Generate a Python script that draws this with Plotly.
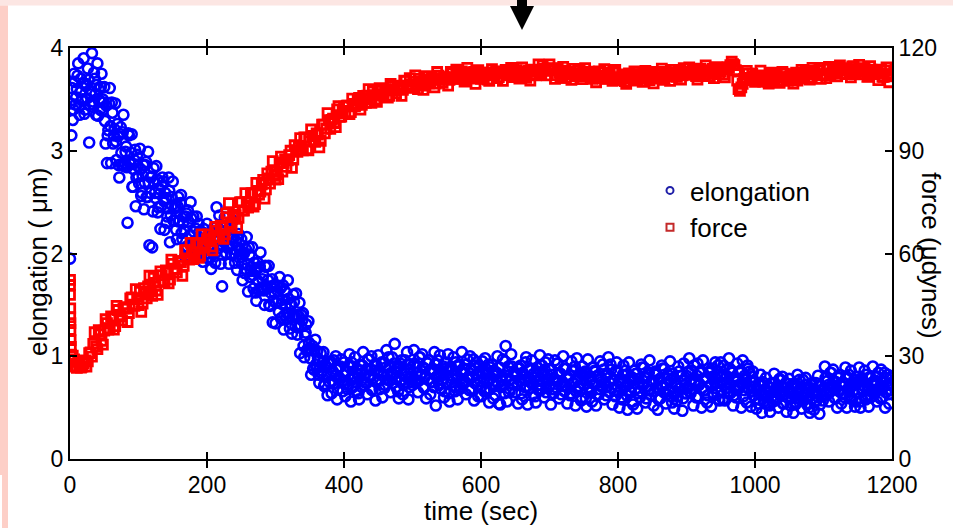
import plotly.graph_objects as go

# ---------------- data ----------------
# elongation (um), sampled every 2 s starting at t = 0 s
elongation_even_um = [
    1.95, 3.15, 3.30, 3.75, 3.45, 3.60, 3.85, 3.35, 3.70, 3.50, 3.90, 3.40, 3.65, 3.80, 3.08, 3.55, 3.95, 3.45, 3.70, 3.35, 3.85, 3.60, 3.40, 3.75, 3.50,
    3.62, 3.07, 2.88, 3.20, 3.61, 2.88, 3.37, 3.15, 3.46, 2.91, 3.14, 2.74, 3.23, 2.86, 3.35, 2.88, 3.04, 2.30, 3.15, 2.87, 3.16, 2.65, 2.91, 2.46, 2.96,
    2.75, 3.02, 2.56, 2.76, 2.43, 2.86, 2.55, 2.99, 2.08, 2.74, 2.06, 2.83, 2.59, 2.85, 2.40, 2.63, 2.24, 2.66, 2.70, 2.23, 2.54, 2.36, 2.74, 2.11, 2.55,
    2.70, 2.32, 2.46, 2.14, 2.55, 2.32, 2.57, 2.14, 2.36, 1.97, 2.39, 2.42, 1.98, 2.50, 2.10, 2.36, 1.97, 2.24, 2.13, 2.29, 2.00, 2.13, 1.92, 2.19, 2.00,
    2.29, 1.95, 2.15, 1.85, 2.21, 2.25, 1.91, 2.45, 2.05, 2.37, 1.90, 1.68, 2.12, 2.35, 2.00, 2.18, 1.90, 2.24, 1.99, 2.32, 2.00, 2.12, 1.84, 2.19, 1.99,
    2.14, 1.74, 2.00, 1.85, 2.16, 1.63, 1.99, 1.83, 2.06, 1.66, 1.83, 1.54, 1.91, 1.64, 2.01, 1.67, 1.79, 1.50, 1.87, 1.66, 1.88, 1.49, 1.68, 1.33, 1.69,
    1.32, 1.69, 1.54, 1.77, 1.37, 1.55, 1.26, 1.63, 1.37, 1.74, 1.39, 1.51, 1.22, 1.60, 1.39, 1.61, 1.21, 1.39, 1.03, 1.40, 1.42, 0.99, 1.23, 1.05, 1.34,
    1.07, 0.82, 1.10, 0.87, 1.16, 0.88, 0.98, 0.74, 1.03, 0.86, 1.04, 0.73, 0.90, 0.62, 0.93, 0.95, 0.64, 0.85, 0.74, 1.00, 0.58, 0.89, 0.77, 0.97, 0.66,
    0.94, 0.61, 0.85, 0.73, 1.02, 0.56, 0.90, 0.78, 0.99, 0.66, 0.82, 0.58, 0.92, 0.70, 1.04, 0.75, 0.87, 0.63, 0.97, 0.80, 1.00, 0.68, 0.86, 0.57, 0.91,
    1.01, 0.68, 0.84, 0.60, 0.94, 0.72, 1.06, 0.77, 0.89, 0.65, 0.99, 0.82, 1.12, 0.70, 0.88, 0.59, 0.93, 0.96, 0.63, 0.87, 0.75, 1.04, 0.58, 0.92, 0.80,
    0.72, 1.06, 0.77, 0.89, 0.65, 0.99, 0.82, 1.02, 0.70, 0.88, 0.59, 0.93, 0.96, 0.63, 0.87, 0.75, 1.04, 0.52, 0.92, 0.80, 1.01, 0.68, 0.84, 0.60, 0.94,
    0.73, 1.02, 0.56, 0.90, 0.78, 0.99, 0.66, 0.82, 0.58, 0.92, 0.70, 1.04, 0.75, 0.87, 0.63, 0.97, 0.80, 1.00, 0.68, 0.86, 0.57, 0.91, 0.94, 0.61, 0.85,
    0.61, 0.95, 0.78, 0.98, 0.66, 0.84, 0.55, 0.89, 0.92, 0.59, 0.83, 0.71, 1.00, 0.54, 0.53, 0.76, 0.97, 0.64, 1.10, 0.56, 0.90, 0.68, 1.02, 0.73, 0.85,
    0.65, 0.83, 0.54, 0.88, 0.91, 0.58, 0.82, 0.70, 0.99, 0.53, 0.87, 0.75, 0.96, 0.63, 0.79, 0.55, 0.89, 0.67, 1.01, 0.72, 0.84, 0.60, 0.94, 0.77, 0.97,
    0.87, 0.53, 0.82, 0.64, 0.96, 0.76, 0.93, 0.59, 0.83, 0.71, 1.00, 0.66, 0.88, 0.54, 0.78, 0.62, 0.95, 0.74, 0.86, 0.52, 0.98, 0.69, 0.81, 0.57, 0.90,
    0.73, 0.85, 0.51, 0.97, 0.68, 0.80, 0.56, 0.89, 0.86, 0.52, 0.81, 0.63, 0.95, 0.75, 0.92, 0.58, 0.82, 0.70, 0.99, 0.65, 0.87, 0.53, 0.77, 0.61, 0.94,
    0.84, 0.50, 0.74, 0.58, 0.91, 0.70, 0.82, 0.48, 0.94, 0.65, 0.77, 0.53, 0.86, 0.83, 0.49, 0.78, 0.60, 0.92, 0.72, 0.89, 0.55, 0.79, 0.67, 0.96, 0.62,
    0.76, 0.52, 0.85, 0.82, 0.48, 0.77, 0.59, 0.91, 0.71, 0.88, 0.54, 0.78, 0.66, 0.95, 0.61, 0.83, 0.49, 0.73, 0.57, 0.90, 0.69, 0.81, 0.47, 0.93, 0.64,
    0.81, 0.69, 0.98, 0.64, 0.86, 0.52, 0.76, 0.60, 0.93, 0.72, 0.84, 0.50, 0.96, 0.67, 0.79, 0.55, 0.88, 0.85, 0.51, 0.80, 0.62, 0.94, 0.74, 0.91, 0.57,
    0.94, 0.74, 0.91, 0.57, 0.81, 0.69, 0.98, 0.64, 0.86, 0.52, 0.76, 0.60, 0.93, 0.72, 0.84, 0.50, 0.96, 0.67, 0.79, 0.55, 0.88, 0.85, 0.51, 0.80, 0.62,
    0.75, 0.49, 0.68, 0.58, 0.82, 0.45, 0.72, 0.62, 0.79, 0.53, 0.66, 0.46, 0.74, 0.56, 0.83, 0.60, 0.70, 0.50, 0.78, 0.64, 0.80, 0.54, 0.69, 0.46, 0.73,
    0.78, 0.52, 0.65, 0.45, 0.73, 0.55, 0.82, 0.59, 0.69, 0.49, 0.77, 0.63, 0.79, 0.53, 0.68, 0.45, 0.72, 0.74, 0.48, 0.67, 0.57, 0.81, 0.44, 0.71, 0.61,
    0.61, 0.90, 0.66, 0.76, 0.56, 0.84, 0.70, 0.87, 0.60, 0.75, 0.50, 0.79, 0.82, 0.54, 0.74, 0.64, 0.89, 0.50, 0.79, 0.68, 0.86, 0.58, 0.72, 0.51, 0.80,
    0.64, 0.89, 0.50, 0.79, 0.68, 0.86, 0.58, 0.72, 0.51, 0.80, 0.61, 0.90, 0.66, 0.76, 0.56, 0.84, 0.70, 0.87, 0.60, 0.75, 0.50, 0.79, 0.82, 0.54, 0.74,
]
# elongation (um), sampled every 2 s starting at t = 1 s
elongation_odd_um = [
    3.46, 3.61, 3.40, 3.67, 3.52, 3.73, 3.43, 3.57, 3.49, 3.66, 3.36, 3.63, 3.51, 3.69, 3.45, 3.58, 3.48, 3.76, 3.55, 3.64, 3.34, 3.49, 3.62, 3.39, 3.47,
    3.29, 3.44, 3.15, 3.46, 3.24, 3.47, 3.07, 3.21, 3.09, 3.26, 2.86, 3.16, 2.98, 3.18, 2.85, 2.99, 2.84, 3.17, 2.89, 2.98, 2.65, 2.82, 3.01, 2.74, 2.85,
    2.68, 2.82, 2.59, 2.86, 2.69, 2.89, 2.55, 2.69, 2.59, 2.75, 2.41, 2.69, 2.54, 2.72, 2.45, 2.58, 2.46, 2.74, 2.51, 2.59, 2.30, 2.44, 2.61, 2.37, 2.47,
    2.32, 2.44, 2.23, 2.46, 2.31, 2.49, 2.20, 2.30, 2.22, 2.36, 2.07, 2.31, 2.18, 2.34, 2.09, 2.21, 2.10, 2.36, 2.15, 2.21, 1.97, 2.10, 2.24, 2.03, 2.12,
    2.00, 2.13, 1.96, 2.19, 2.07, 2.25, 2.01, 2.13, 2.08, 2.23, 1.99, 2.21, 2.11, 2.26, 2.06, 2.18, 2.07, 2.29, 2.09, 2.15, 1.91, 2.03, 2.15, 1.96, 2.03,
    1.90, 2.01, 1.81, 2.04, 1.89, 2.06, 1.77, 1.87, 1.79, 1.91, 1.62, 1.85, 1.73, 1.87, 1.65, 1.75, 1.64, 1.88, 1.68, 1.74, 1.50, 1.62, 1.75, 1.54, 1.61,
    1.52, 1.64, 1.43, 1.66, 1.51, 1.69, 1.40, 1.50, 1.42, 1.56, 1.27, 1.50, 1.38, 1.53, 1.29, 1.40, 1.28, 1.52, 1.30, 1.35, 1.10, 1.20, 1.31, 1.07, 1.13,
    0.98, 1.06, 0.88, 1.05, 0.92, 1.05, 0.82, 0.90, 0.84, 0.94, 0.71, 0.90, 0.81, 0.93, 0.75, 0.84, 0.76, 0.96, 0.81, 0.87, 0.68, 0.79, 0.90, 0.75, 0.82,
    0.73, 0.85, 0.68, 0.90, 0.78, 0.94, 0.70, 0.81, 0.75, 0.88, 0.64, 0.86, 0.76, 0.91, 0.72, 0.82, 0.74, 0.97, 0.80, 0.87, 0.67, 0.79, 0.92, 0.75, 0.84,
    0.86, 0.77, 0.94, 0.81, 0.69, 0.89, 0.82, 0.99, 0.76, 0.84, 0.74, 0.93, 0.78, 0.88, 0.66, 0.90, 0.77, 0.83, 0.72, 0.96, 0.80, 0.92, 0.70, 0.87, 0.75,
    0.78, 0.93, 0.74, 0.84, 0.76, 0.99, 0.82, 0.89, 0.69, 0.81, 0.94, 0.77, 0.86, 0.75, 0.87, 0.70, 0.92, 0.80, 0.96, 0.72, 0.83, 0.77, 0.90, 0.66, 0.88,
    0.86, 0.64, 0.88, 0.75, 0.81, 0.70, 0.94, 0.78, 0.90, 0.68, 0.85, 0.73, 0.84, 0.75, 0.92, 0.79, 0.67, 0.87, 0.80, 0.97, 0.74, 0.82, 0.72, 0.91, 0.76,
    0.71, 0.83, 0.66, 0.88, 0.76, 0.92, 0.68, 0.79, 0.73, 0.86, 0.62, 0.84, 0.74, 0.89, 0.70, 0.80, 0.72, 0.95, 0.78, 0.85, 0.65, 0.77, 0.90, 0.73, 0.82,
    0.81, 0.72, 0.89, 0.76, 0.64, 0.84, 0.77, 0.94, 0.71, 0.79, 0.69, 0.88, 0.73, 0.83, 0.61, 0.85, 0.72, 0.78, 0.67, 0.91, 0.75, 0.87, 0.65, 0.82, 0.70,
    0.72, 0.87, 0.68, 0.78, 0.70, 0.93, 0.76, 0.83, 0.63, 0.75, 0.88, 0.71, 0.80, 0.69, 0.81, 0.64, 0.86, 0.74, 0.90, 0.66, 0.77, 0.71, 0.84, 0.60, 0.82,
    0.81, 0.59, 0.83, 0.70, 0.76, 0.65, 0.89, 0.73, 0.85, 0.63, 0.80, 0.68, 0.79, 0.70, 0.87, 0.74, 0.62, 0.82, 0.75, 0.92, 0.69, 0.77, 0.67, 0.86, 0.71,
    0.65, 0.77, 0.60, 0.82, 0.70, 0.86, 0.62, 0.73, 0.67, 0.80, 0.56, 0.78, 0.68, 0.83, 0.64, 0.74, 0.66, 0.89, 0.72, 0.79, 0.59, 0.71, 0.84, 0.67, 0.76,
    0.75, 0.66, 0.83, 0.70, 0.58, 0.78, 0.71, 0.88, 0.65, 0.73, 0.63, 0.82, 0.67, 0.77, 0.55, 0.79, 0.66, 0.72, 0.61, 0.85, 0.69, 0.81, 0.59, 0.76, 0.64,
    0.70, 0.85, 0.66, 0.76, 0.68, 0.91, 0.74, 0.81, 0.61, 0.73, 0.86, 0.69, 0.78, 0.67, 0.79, 0.62, 0.84, 0.72, 0.88, 0.64, 0.75, 0.69, 0.82, 0.58, 0.80,
    0.80, 0.58, 0.82, 0.69, 0.75, 0.64, 0.88, 0.72, 0.84, 0.62, 0.79, 0.67, 0.78, 0.69, 0.86, 0.73, 0.61, 0.81, 0.74, 0.91, 0.68, 0.76, 0.66, 0.85, 0.70,
    0.58, 0.68, 0.54, 0.72, 0.62, 0.75, 0.56, 0.65, 0.60, 0.71, 0.52, 0.69, 0.61, 0.73, 0.57, 0.66, 0.59, 0.77, 0.64, 0.70, 0.54, 0.63, 0.74, 0.60, 0.67,
    0.66, 0.59, 0.73, 0.62, 0.53, 0.69, 0.63, 0.77, 0.58, 0.65, 0.57, 0.72, 0.60, 0.68, 0.50, 0.69, 0.59, 0.64, 0.55, 0.74, 0.61, 0.71, 0.53, 0.67, 0.57,
    0.67, 0.79, 0.63, 0.72, 0.65, 0.84, 0.70, 0.76, 0.59, 0.69, 0.80, 0.66, 0.73, 0.64, 0.74, 0.60, 0.79, 0.68, 0.82, 0.61, 0.71, 0.66, 0.77, 0.56, 0.75,
    0.75, 0.56, 0.77, 0.66, 0.71, 0.61, 0.82, 0.68, 0.79, 0.60, 0.74, 0.64, 0.73, 0.66, 0.80, 0.69, 0.59, 0.76, 0.70, 0.84, 0.65, 0.72, 0.63, 0.79, 0.67,
]
elong_step_sec = 2
elongation_time_sec = ([i * elong_step_sec for i in range(len(elongation_even_um))]
                       + [1 + i * elong_step_sec for i in range(len(elongation_odd_um))])
elongation_all_um = elongation_even_um + elongation_odd_um

# force (udynes): initial transient recorded in the first second
force_start_time_sec = [0, 0, 0, 0.3, 0.3, 0.6, 0.6, 0.9, 1.2, 1.5]
force_start_udyn = [52.3, 50.8, 47.9, 44.0, 41.4, 39.7, 37.7, 34.7, 32.7, 30.5]
# force (udynes), every 4 s starting at t = 4 s
force_a_udyn = [
    30.2, 27.0, 28.4, 26.7, 28.0, 27.0, 30.9, 29.9, 37.0, 32.1, 36.4, 33.4, 40.8, 37.8, 41.6, 37.8, 44.7, 42.0, 40.5, 44.3, 40.0, 46.9, 45.1, 49.6, 44.9,
    43.0, 49.9, 46.9, 53.5, 47.6, 51.4, 47.9, 54.8, 51.8, 55.1, 51.3, 58.2, 55.5, 54.5, 57.8, 53.5, 60.9, 58.6, 63.1, 58.4, 63.0, 58.7, 65.6, 61.7, 64.2,
    63.9, 60.9, 67.8, 64.8, 68.1, 64.3, 71.7, 74.7, 68.0, 71.3, 67.5, 74.9, 72.6, 77.6, 73.4, 77.5, 73.7, 80.6, 77.2, 80.2, 76.0, 83.4, 80.4, 87.0, 81.6,
    81.7, 88.3, 86.5, 85.3, 88.7, 85.0, 91.6, 89.7, 93.7, 90.1, 93.8, 90.1, 96.2, 92.8, 95.1, 91.0, 97.6, 95.1, 101.0, 96.4, 99.4, 96.9, 103.0, 100.0, 102.9,
    103.2, 100.7, 105.2, 103.0, 104.8, 102.0, 106.0, 104.0, 108.0, 104.0, 106.2, 104.3, 108.3, 106.2, 108.0, 105.5, 109.5, 108.0, 106.8, 109.0, 106.0, 110.5, 108.8, 111.2, 108.5,
    112.0, 108.0, 110.2, 107.8, 111.8, 109.7, 111.5, 108.5, 113.0, 111.0, 109.8, 111.5, 109.0, 113.0, 111.3, 113.7, 111.0, 113.2, 110.2, 114.2, 111.5, 112.8, 109.5, 113.5, 111.0,
    111.4, 112.8, 110.4, 113.8, 112.2, 111.2, 112.8, 110.4, 113.6, 112.2, 114.2, 111.7, 113.5, 111.1, 114.3, 112.1, 113.1, 110.5, 113.7, 112.0, 115.2, 112.3, 114.0, 112.0, 115.2,
    114.1, 111.0, 114.0, 111.7, 114.5, 111.3, 112.7, 110.7, 113.9, 111.9, 113.3, 110.9, 114.1, 112.3, 111.3, 112.6, 110.0, 113.2, 111.8, 113.8, 111.0, 112.8, 110.4, 113.6, 111.4,
    110.6, 111.9, 109.5, 112.6, 111.2, 113.2, 110.6, 112.4, 110.1, 113.3, 111.1, 112.2, 109.7, 113.0, 111.1, 114.0, 110.8, 112.3, 110.4, 113.6, 111.7, 113.2, 110.8, 114.1, 112.5,
    114.3, 112.2, 113.3, 110.8, 114.0, 112.1, 114.9, 111.8, 113.2, 111.2, 114.4, 112.4, 113.8, 111.4, 114.4, 115.0, 115.3, 113.5, 108.0, 108.5, 111.0, 113.3, 110.7, 112.5, 110.1,
    110.6, 113.4, 110.2, 111.6, 109.6, 112.8, 110.8, 112.2, 109.8, 113.0, 111.4, 110.4, 111.9, 109.6, 112.8, 111.5, 113.6, 111.1, 113.0, 110.8, 114.2, 112.2, 113.4, 111.0, 114.2,
    111.2, 114.5, 112.6, 114.0, 111.7, 114.9, 113.4, 112.4, 113.8, 111.4, 114.6, 113.1, 115.1, 112.4, 114.1, 111.6, 114.7, 112.4, 113.3, 110.6, 113.7, 111.6, 114.3, 110.0, 112.4,
]
# force (udynes), every 4 s starting at t = 2 s
force_b_udyn = [
    30.0, 29.1, 26.6, 27.3, 27.0, 28.8, 28.5, 31.1, 33.6, 32.9, 37.6, 34.5, 37.5, 39.7, 38.1, 41.1, 38.8, 43.5, 41.6, 44.0, 43.9, 42.6, 47.2, 44.7, 46.6,
    48.8, 45.4, 48.4, 50.4, 49.0, 52.9, 49.2, 51.8, 53.7, 51.8, 54.6, 52.4, 57.0, 55.4, 57.8, 57.4, 56.4, 61.0, 58.2, 60.2, 59.3, 62.8, 59.4, 63.0, 62.4,
    65.6, 62.0, 64.8, 66.7, 64.8, 67.6, 65.6, 70.6, 68.9, 71.2, 71.2, 70.4, 75.0, 72.5, 74.9, 74.0, 77.6, 74.4, 78.3, 78.1, 81.5, 78.7, 81.9, 83.9, 82.7,
    83.2, 86.4, 83.9, 87.5, 87.2, 90.0, 87.4, 90.2, 91.4, 90.3, 93.9, 90.5, 92.8, 94.3, 92.6, 94.7, 92.9, 97.6, 96.5, 98.9, 99.0, 98.1, 102.1, 99.9, 101.6,
    101.0, 103.2, 101.3, 103.7, 103.5, 105.4, 103.4, 105.0, 106.1, 105.0, 107.3, 105.0, 106.5, 107.5, 106.1, 107.6, 106.0, 108.9, 107.6, 108.8, 108.6, 107.8, 110.4, 108.4, 109.4,
    110.2, 109.1, 111.0, 109.0, 110.0, 110.8, 109.8, 110.8, 109.6, 111.9, 110.7, 111.5, 111.3, 110.7, 112.6, 111.0, 112.0, 111.4, 112.8, 110.8, 112.4, 111.8, 113.0, 111.1, 112.2,
    111.4, 112.8, 110.8, 112.6, 112.0, 113.2, 111.5, 112.6, 113.1, 112.0, 113.6, 111.5, 112.5, 113.1, 111.8, 112.8, 111.3, 113.4, 112.2, 113.3, 113.3, 112.7, 114.9, 113.3, 114.0,
    113.5, 113.6, 112.1, 112.8, 111.3, 113.4, 112.2, 113.0, 112.6, 111.7, 113.6, 112.0, 112.7, 111.7, 113.1, 111.0, 112.4, 111.8, 113.0, 111.1, 112.0, 112.5, 111.4, 113.0, 110.8,
    111.0, 112.3, 110.3, 111.8, 111.2, 112.4, 110.5, 111.6, 112.2, 111.1, 112.7, 110.6, 111.7, 112.4, 111.2, 112.3, 110.8, 113.0, 111.9, 112.7, 112.4, 111.6, 113.5, 112.0, 112.7,
    113.2, 112.2, 113.9, 111.8, 112.8, 113.5, 112.2, 113.3, 111.8, 113.9, 112.7, 113.5, 113.1, 112.2, 113.9, 114.2, 116.0, 115.0, 110.5, 107.5, 109.5, 111.3, 112.5, 110.6, 111.7,
    111.4, 112.0, 110.7, 111.7, 110.2, 112.3, 111.1, 111.9, 111.5, 110.6, 112.5, 110.9, 111.7, 111.0, 112.4, 110.5, 112.2, 111.7, 113.0, 111.3, 112.6, 113.3, 112.4, 114.2, 112.0,
    112.4, 113.9, 112.0, 113.6, 113.1, 114.3, 112.5, 113.6, 114.1, 113.0, 114.6, 112.3, 113.3, 113.8, 112.4, 113.3, 111.7, 113.7, 112.4, 113.1, 112.6, 111.6, 113.4, 111.7, 112.4,
]
force_step_sec = 4
force_time_sec = (force_start_time_sec
                  + [4 + i * force_step_sec for i in range(len(force_a_udyn))]
                  + [2 + i * force_step_sec for i in range(len(force_b_udyn))])
force_all_udyn = force_start_udyn + force_a_udyn + force_b_udyn

series_names = ["elongation", "force"]
x_ticks = [0, 200, 400, 600, 800, 1000, 1200]
y1_ticks = [0, 1, 2, 3, 4]
y2_ticks = [0, 30, 60, 90, 120]

# ---------------- layout geometry (pixels) ----------------
W, H = 958, 528
PL, PR, PT, PB = 70, 892, 48, 459


def px_x(px):
    return (px - PL) / (PR - PL)


def px_y(py):
    return (PB - py) / (PB - PT)


FONT = "Liberation Sans, Arial, Helvetica, sans-serif"

fig = go.Figure()
fig.add_trace(go.Scatter(
    x=elongation_time_sec, y=elongation_all_um, mode="markers", name=series_names[0],
    marker=dict(symbol="circle-open", size=10, color="#0000ff", line=dict(width=2.6, color="#0000ff")),
    yaxis="y", showlegend=False,
))
fig.add_trace(go.Scatter(
    x=force_time_sec, y=force_all_udyn, mode="markers", name=series_names[1],
    marker=dict(symbol="square-open", size=9, color="#ff0000", line=dict(width=2.8, color="#ff0000")),
    yaxis="y2", showlegend=False,
))
# legend keys (smaller symbols, as in the original legend box)
fig.add_trace(go.Scatter(
    x=[None], y=[None], mode="markers", name=series_names[0],
    marker=dict(symbol="circle-open", size=7, color="#1f1fa8", line=dict(width=2, color="#1f1fa8")),
    yaxis="y",
))
fig.add_trace(go.Scatter(
    x=[None], y=[None], mode="markers", name=series_names[1],
    marker=dict(symbol="square-open", size=7, color="#c42a2a", line=dict(width=2, color="#c42a2a")),
    yaxis="y2",
))

axis_common = dict(
    showgrid=False, zeroline=False, showline=True, linecolor="black", linewidth=2,
    ticks="inside", ticklen=7, tickwidth=1.5, tickcolor="black",
    tickfont=dict(family=FONT, size=23, color="black"),
)

fig.update_layout(
    width=W, height=H,
    margin=dict(l=PL, r=W - PR, t=PT, b=H - PB, pad=0),
    paper_bgcolor="white", plot_bgcolor="white",
    xaxis=dict(range=[0, 1200], tickvals=x_ticks, mirror="allticks", ticklabelstandoff=4, **axis_common),
    yaxis=dict(range=[0, 4], tickvals=y1_ticks, **axis_common),
    yaxis2=dict(range=[0, 120], tickvals=y2_ticks, overlaying="y", side="right", **axis_common),
    showlegend=True,
    legend=dict(
        x=px_x(650), y=px_y(167), xanchor="left", yanchor="top",
        bgcolor="rgba(0,0,0,0)", borderwidth=0,
        font=dict(family=FONT, size=26, color="black"),
        itemwidth=30, tracegroupgap=0,
    ),
)

annotations = [
    dict(text="time (sec)", x=px_x(481), y=px_y(511), xref="paper", yref="paper",
         showarrow=False, xanchor="center", yanchor="middle",
         font=dict(family=FONT, size=26, color="black")),
    dict(text="elongation ( \u03bcm)", x=px_x(38), y=px_y(262), xref="paper", yref="paper",
         showarrow=False, xanchor="center", yanchor="middle", textangle=-90,
         font=dict(family=FONT, size=26, color="black")),
    dict(text="force (\u03bcdynes)", x=px_x(931), y=px_y(255), xref="paper", yref="paper",
         showarrow=False, xanchor="center", yanchor="middle", textangle=90,
         font=dict(family=FONT, size=26, color="black")),
]
fig.update_layout(annotations=annotations)

# page decoration: pink frame strips and the black arrow at the top
pink_top = "#fce6e3"
pink_side = "#fdcfc7"
shapes = [
    dict(type="rect", xref="paper", yref="paper", x0=px_x(0), x1=px_x(953), y0=px_y(0), y1=px_y(5.5),
         fillcolor=pink_top, line=dict(width=0), layer="below"),
    dict(type="rect", xref="paper", yref="paper", x0=px_x(0), x1=px_x(8), y0=px_y(5.5), y1=px_y(475),
         fillcolor=pink_side, line=dict(width=0), layer="below"),
    dict(type="rect", xref="paper", yref="paper", x0=px_x(2), x1=px_x(8), y0=px_y(475), y1=px_y(528),
         fillcolor=pink_side, line=dict(width=0), layer="below"),
]
arrow_path = "M {a},{b} L {c},{b} L {c},{d} L {e},{d} L {f},{g} L {h},{d} L {a},{d} Z".format(
    a=px_x(517), c=px_x(527), b=px_y(0), d=px_y(6), e=px_x(534), f=px_x(522), g=px_y(30), h=px_x(510))
shapes.append(dict(type="path", path=arrow_path, xref="paper", yref="paper",
                   fillcolor="black", line=dict(width=0, color="black"), layer="above"))
fig.update_layout(shapes=shapes)

fig.write_html("out.html")
